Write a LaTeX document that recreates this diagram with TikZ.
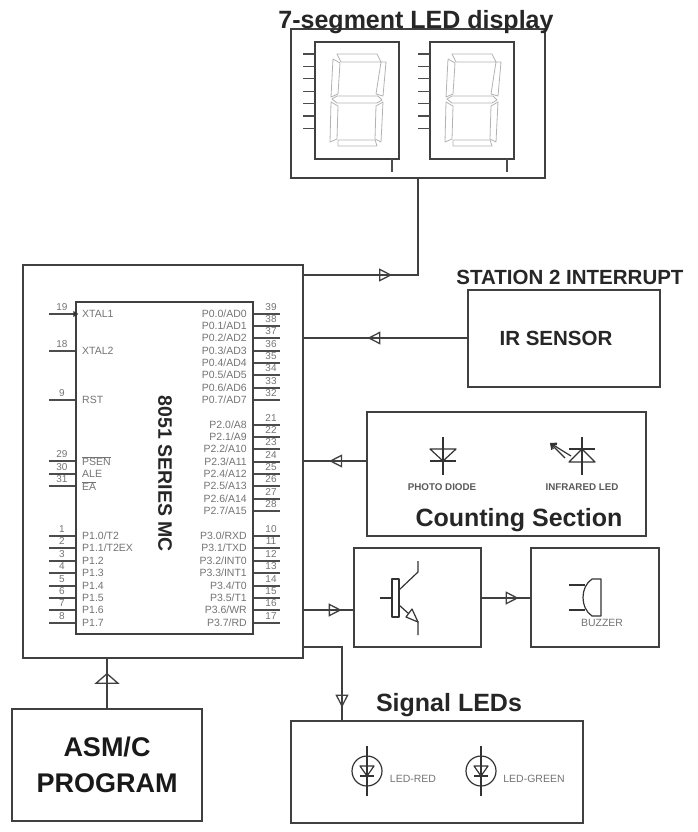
\documentclass[tikz,border=0pt]{standalone}
\usepackage{fontspec}
\setmainfont{Liberation Sans}
\usetikzlibrary{arrows.meta,decorations.markings}
\newcommand\colorBlock{black!75}
\newcommand\colorPin{black!70}
\newcommand\colorPinText{black!55}
\newcommand\colorSegment{black!30}
\newcommand\pinLength{26}
\newcommand\drawDigit[1]{
	\begin{scope}[shift={(#1,42)}]
		\draw[digitbox] (0,0) rectangle (84,117);
		\foreach \i in {0,...,6}{
			\draw[pinline] (0,12+\i*12.4) to ++(-12,0);
		}
		\draw[pinline] (77,117) to ++(0,13);
		% segments
		\draw[segment] (22,12) to (62,12) to (66,20) to (26,20) to cycle;
		\draw[segment] (18,17) to (25,21) to (23,52) to (16,55) to cycle;
		\draw[segment] (66,20) to (71,20) to (68,54) to (61,52) to cycle;
		\draw[segment] (22,54) to (63,54) to (67,58) to (62,61) to (22,61) to (17,57) to cycle;
		\draw[segment] (16,60) to (23,64) to (22,97) to (15,100) to cycle;
		\draw[segment] (61,64) to (68,60) to (66,100) to (60,97) to cycle;
		\draw[segment] (23,98) to (60,98) to (62,104) to (23,104) to cycle;
	\end{scope}
}
\newcommand\drawDiodeLed[1]{
	\begin{scope}[shift={(#1,771)}]
		\draw[symbol] (0,0) circle (15);
		\draw[symbol] (0,-25) to (0,25);
		\draw[symbol] (-7,-5) to (7,-5) to (0,5) to cycle;
		\draw[symbol] (-7,5) to (7,5);
	\end{scope}
}
\tikzset{
	blockbox/.style={draw=\colorBlock, line width=1.2pt, inner sep=0pt},
	digitbox/.style={draw=\colorBlock, line width=1.1pt},
	pinline/.style={draw=\colorPin, line width=1.1pt},
	segment/.style={draw=\colorSegment, line width=0.8pt, line join=round},
	symbol/.style={draw=black!80, line width=1.2pt, line join=round},
	conn/.style={draw=\colorBlock, line width=1.2pt, postaction=decorate,
		decoration={markings, mark=at position #1 with {\arrow{Triangle[open, length=13pt, width=13pt, line width=1.3pt]}}}},
	wideconn/.style={draw=\colorBlock, line width=1.2pt, postaction=decorate,
		decoration={markings, mark=at position #1 with {\arrow{Triangle[open, length=11pt, width=25pt, line width=1.3pt]}}}},
	pinname/.style={font=\fontsize{10.5}{10.5}\selectfont, text=\colorPinText, inner sep=0pt},
	pinnum/.style={font=\fontsize{10}{10}\selectfont, text=\colorPinText, inner sep=0pt},
	parttext/.style={font=\fontsize{10.5}{10.5}\selectfont, text=\colorPinText, inner sep=0pt},
	boldtext/.style={font=\fontsize{9.8}{9.8}\selectfont\bfseries, text=black!65, inner sep=0pt},
	heading/.style={font=\fontsize{25}{25}\selectfont\bfseries, text=black!85, inner sep=0pt},
}
\begin{document}
\begin{tikzpicture}[x=1pt,y=-1pt]
	\useasboundingbox (0,0) rectangle (697,832);

	% blocks
	\node[blockbox, minimum width=254, minimum height=149] (display) at (418,103.5) {};
	\node[blockbox, minimum width=280, minimum height=393] (mc) at (163,461.5) {};
	\node[blockbox, minimum width=192, minimum height=97] (sensor) at (564,338.5) {};
	\node[blockbox, minimum width=279, minimum height=124] (counting) at (506.5,474) {};
	\node[blockbox, minimum width=127, minimum height=99] (driver) at (417.5,597.5) {};
	\node[blockbox, minimum width=128, minimum height=99] (buzzer) at (595,597.5) {};
	\node[blockbox, minimum width=292, minimum height=102] (leds) at (437,772) {};
	\node[blockbox, minimum width=190, minimum height=112, align=center,
		font=\fontsize{27}{36}\selectfont\bfseries, text=black!90] (program) at (107,765) {ASM/C\\PROGRAM};
	\node[draw=\colorBlock, line width=1.2pt, inner sep=0pt, minimum width=177, minimum height=332] (chip) at (164.5,468) {};

	% headings
	\node[heading] (displayTitle) at (416,22) {7-segment LED display};
	\node[heading, font=\fontsize{20.5}{21}\selectfont\bfseries] (sensorTitle) at (570,277) {STATION 2 INTERRUPT};
	\node[heading, font=\fontsize{20.5}{21}\selectfont\bfseries] (sensorText) at (556,338) {IR SENSOR};
	\node[heading] (countingTitle) at (519,520) {Counting Section};
	\node[heading] (ledsTitle) at (449,705) {Signal LEDs};
	\node[heading, font=\fontsize{19.5}{20}\selectfont\bfseries, rotate=-90] (chipTitle) at (165,474) {8051 SERIES MC};

	% chip pins
	\foreach \y/\n/\t in {314/19/XTAL1,351/18/XTAL2,400/9/RST,461/29/{$\overline{\mbox{PSEN}}$},474/30/ALE,486/31/{$\overline{\mbox{EA}}$},
		536/1/{P1.0/T2},548/2/{P1.1/T2EX},561/3/P1.2,573/4/P1.3,586/5/P1.4,598/6/P1.5,610/7/P1.6,623/8/P1.7}{
		\draw[pinline] (chip.west |- 0,\y) to ++(-\pinLength,0);
		\node[pinnum] (num\n) at (62,\y-7) {\n};
		\node[pinname, anchor=west] (name\n) at (82,\y) {\t};
	}
	\foreach \y/\n/\t in {314/39/{P0.0/AD0},326/38/{P0.1/AD1},338/37/{P0.2/AD2},351/36/{P0.3/AD3},363/35/{P0.4/AD4},375/34/{P0.5/AD5},388/33/{P0.6/AD6},400/32/{P0.7/AD7},
		425/21/{P2.0/A8},437/22/{P2.1/A9},449/23/{P2.2/A10},462/24/{P2.3/A11},474/25/{P2.4/A12},486/26/{P2.5/A13},499/27/{P2.6/A14},511/28/{P2.7/A15},
		536/10/{P3.0/RXD},548/11/{P3.1/TXD},561/12/{P3.2/INT0},573/13/{P3.3/INT1},586/14/{P3.4/T0},598/15/{P3.5/T1},610/16/{P3.6/WR},623/17/{P3.7/RD}}{
		\draw[pinline] (chip.east |- 0,\y) to ++(\pinLength,0);
		\node[pinnum] (num\n) at (271,\y-7) {\n};
		\node[pinname, anchor=east] (name\n) at (247,\y) {\t};
	}
	\fill[black!80] (chip.west |- 0,314) to ++(3,0) to ++(-5,-3) to ++(0,6) to ++(5,-3);

	% display
	\drawDigit{315}
	\drawDigit{430}

	% connectors
	\coordinate (mcDisplay) at (mc.east |- 0,275);
	\coordinate (mcLeds) at (mc.east |- 0,647);
	\coordinate (ledsIn) at (leds.north west -| 342,0);
	\draw[conn=0.42] (mcDisplay) -| (display.south);
	\draw[conn=0.61] (sensor.west |- 0,338) to (mc.east |- 0,338);
	\draw[conn=0.594] (counting.west |- 0,461) to (mc.east |- 0,461);
	\draw[conn=0.765] (mc.east |- 0,610) to (driver.west |- 0,610);
	\draw[conn=0.76] (driver.east |- 0,598) to (buzzer.west |- 0,598);
	\draw[conn=0.885] (mcLeds) -| (ledsIn);
	\draw[wideconn=0.714] (program.north) to (program.north |- mc.south);

	% photo diode
	\draw[symbol] (443,437) to (443,475);
	\draw[symbol] (430,449) to (456,449) to (443,461) to cycle;
	\draw[symbol] (430,461) to (456,461);
	\node[boldtext] (photoText) at (442,487) {PHOTO DIODE};

	% infrared led
	\draw[symbol] (582,437) to (582,475);
	\draw[symbol] (569,449) to (595,449);
	\draw[symbol] (582,449) to (595,462) to (569,462) to cycle;
	\draw[symbol, -{Straight Barb[length=5pt,width=7pt]}] (571,456) to (550,443);
	\draw[symbol, -{Straight Barb[length=5pt,width=7pt]}] (565,458) to (550,443);
	\node[boldtext] (infraredText) at (582,487) {INFRARED LED};

	% transistor
	\draw[symbol, fill=white] (392,579) rectangle (399,617);
	\draw[symbol] (380,598) to (392,598);
	\draw[symbol] (399,590) to (418,572) to (418,561);
	\draw[symbol] (399,605) to (418,622) to (418,635);
	\draw[symbol, fill=white] (406,617) to (418,622) to (412,609) to cycle;

	% buzzer
	\draw[symbol] (569,585) to (585,585);
	\draw[symbol] (569,610) to (585,610);
	\draw[symbol] (601,579) to (601,616) to (592,616) .. controls (580,608) and (580,587) .. (592,579) to cycle;
	\node[parttext] (buzzerText) at (602,623) {BUZZER};

	% signal leds
	\drawDiodeLed{367}
	\drawDiodeLed{481}
	\node[parttext] (redText) at (413,779) {LED-RED};
	\node[parttext] (greenText) at (534,779) {LED-GREEN};
\end{tikzpicture}
\end{document}
